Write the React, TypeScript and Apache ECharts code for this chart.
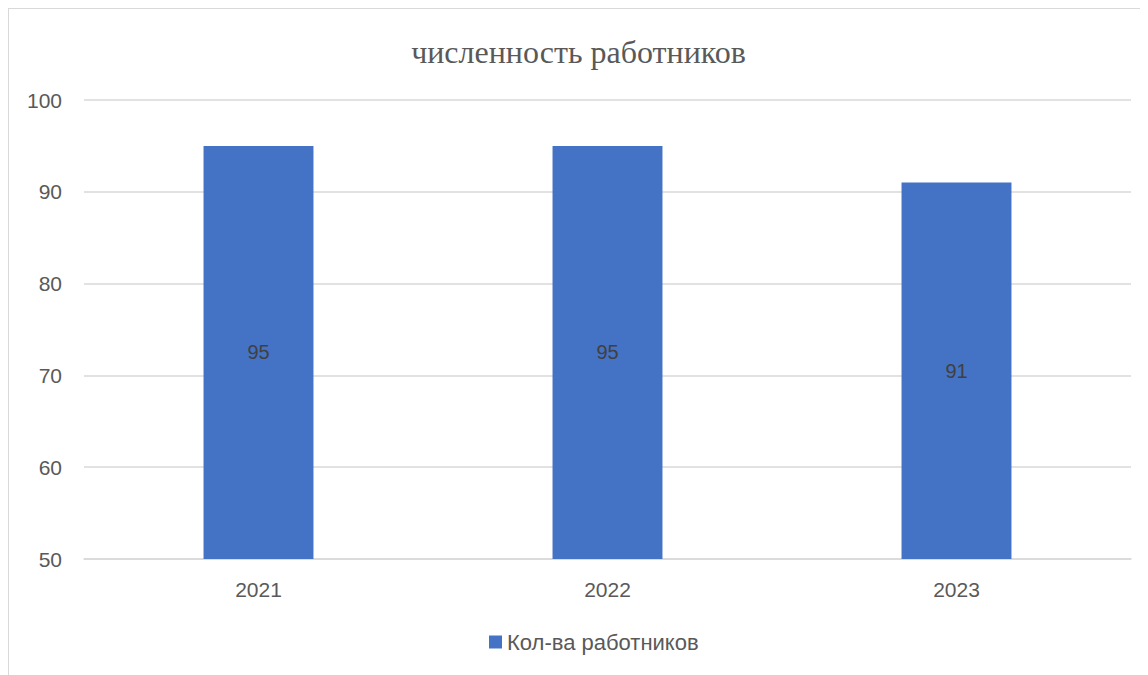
import React, { useEffect, useRef } from "react";
import * as echarts from "echarts";

const categories = ["2021", "2022", "2023"];
const values = [95, 95, 91];
const seriesName = "Кол-ва работников";
const titleText = "численность работников";
const yMin = 50;
const yMax = 100;
const yInterval = 10;

export default function App() {
  const ref = useRef<HTMLDivElement>(null);
  useEffect(() => {
    if (!ref.current) return;
    const chart = echarts.init(ref.current, null, { renderer: "svg" });
    const sans = "Liberation Sans";
    chart.setOption({
      animation: false,
      title: {
        text: titleText,
        left: "center",
        top: 22,
        textStyle: {
          fontFamily: "Liberation Serif",
          fontSize: 32,
          fontWeight: "normal",
          color: "#595959",
        },
      },
      grid: { left: 75, right: 17, top: 91, bottom: 110 },
      legend: {
        data: [seriesName],
        bottom: 11,
        left: 475,
        icon: "rect",
        itemWidth: 13,
        itemHeight: 13,
        itemGap: 6,
        textStyle: { fontFamily: sans, fontSize: 22, color: "#595959" },
      },
      xAxis: {
        type: "category",
        data: categories,
        axisLine: { show: true, lineStyle: { color: "#d9d9d9", width: 1.5 } },
        axisTick: { show: false },
        axisLabel: { fontFamily: sans, fontSize: 21, color: "#595959", margin: 20 },
      },
      yAxis: {
        type: "value",
        min: yMin,
        max: yMax,
        interval: yInterval,
        axisLine: { show: false },
        axisTick: { show: false },
        splitLine: { lineStyle: { color: "#d9d9d9", width: 1.5 } },
        axisLabel: { fontFamily: sans, fontSize: 21, color: "#595959", margin: 22 },
      },
      series: [
        {
          name: seriesName,
          type: "bar",
          data: values,
          barWidth: "31.5%",
          itemStyle: { color: "#4472C4" },
          label: {
            show: true,
            position: "inside",
            fontFamily: sans,
            fontSize: 20,
            color: "#404040",
          },
        },
      ],
    });
    return () => chart.dispose();
  }, []);
  return (
    <div
      style={{
        border: "1px solid #d9d9d9",
        width: 1160,
        height: 700,
        boxSizing: "border-box",
      }}
    >
      <div ref={ref} style={{ width: 1139, height: 660 }} />
    </div>
  );
}
